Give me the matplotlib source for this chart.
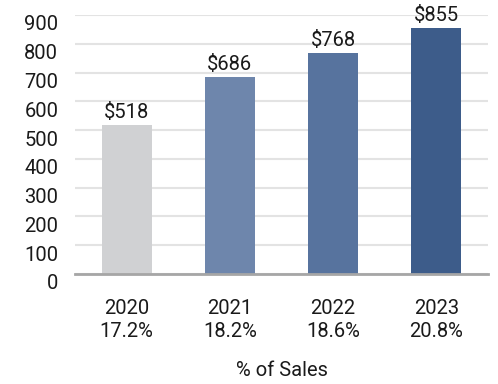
import matplotlib
matplotlib.use('Agg')
import matplotlib.pyplot as plt
import matplotlib.transforms as mtransforms

# data
years = ['2020', '2021', '2022', '2023']
pct_sales = ['17.2%', '18.2%', '18.6%', '20.8%']
values = [518, 686, 768, 855]
colors = ['#D0D1D3', '#6E86AC', '#57739E', '#3D5C8A']

plt.rcParams['font.family'] = ['Roboto', 'DejaVu Sans']

fig = plt.figure(figsize=(4.98, 3.84), dpi=100)
ax = fig.add_axes([0.1506, 0.2865, 0.8294, 0.6745])

x = range(len(years))
bars = ax.bar(x, values, width=0.485, color=colors, zorder=2)

# value labels
for b, v in zip(bars, values):
    ax.text(b.get_x() + b.get_width() / 2, v + 10, f'${v}', ha='center', va='bottom',
            fontsize=14.5, color='#1a1a1a', clip_on=False)

ax.set_xlim(-0.5, len(years) - 0.5)
ax.set_ylim(0, 900)
ax.set_yticks(range(0, 1000, 100))
ax.yaxis.grid(True, color='#E3E3E3', linewidth=1.5, zorder=0)
ax.set_axisbelow(True)

for s in ['top', 'right', 'left']:
    ax.spines[s].set_visible(False)
ax.spines['bottom'].set_color('#A6A6A6')
ax.spines['bottom'].set_linewidth(2)
ax.spines['bottom'].set_zorder(3)

ax.set_xticks(list(x))
ax.set_xticklabels([f'{y}\n{p}' for y, p in zip(years, pct_sales)], linespacing=1.3)
ax.tick_params(axis='both', length=0, labelsize=14.5, labelcolor='#1a1a1a')
ax.tick_params(axis='x', pad=18)
ax.tick_params(axis='y', pad=12)

# y labels sit a bit below their gridlines in the original
offset = mtransforms.ScaledTranslation(0, -8 / 100, fig.dpi_scale_trans)
for lab in ax.get_yticklabels():
    lab.set_transform(lab.get_transform() + offset)

ax.set_xlabel('% of Sales', fontsize=14.5, color='#1a1a1a', labelpad=14)

fig.savefig('out.png', dpi=100)
